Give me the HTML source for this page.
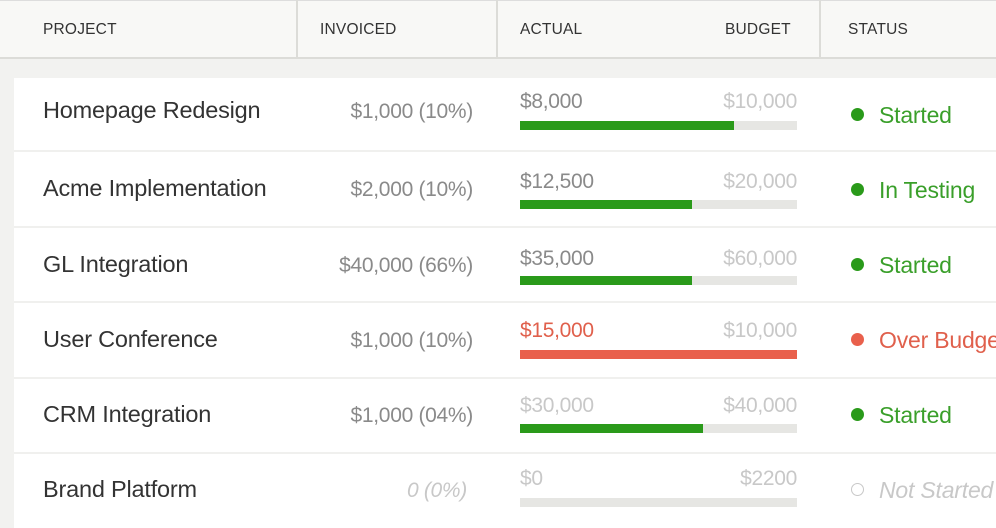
<!DOCTYPE html>
<html><head><style>
*{margin:0;padding:0;box-sizing:border-box}
body{width:996px;height:522px;overflow:hidden;background:#f2f2f0;font-family:"Liberation Sans",sans-serif;position:relative}
.hd{position:absolute;left:0;top:0;width:996px;height:59px;background:#f8f8f6;border-bottom:2px solid #dcdcd8;border-top:1px solid #ddd}
.vd{position:absolute;top:0;width:2px;height:58px;background:#dcdcd8}
.h{position:absolute;top:21px;font-size:15.5px;color:#333;letter-spacing:0.2px}
.card{position:absolute;left:14px;top:78px;width:990px;height:450px;background:#fff}
.sep{position:absolute;left:14px;width:990px;height:2px;background:#f0f0ee}
.t{position:absolute;white-space:nowrap;line-height:1}
.nm{left:43px;font-size:23.5px;color:#333;letter-spacing:-0.2px}
.inv{right:523px;font-size:21px;color:#8a8a8a;letter-spacing:-0.3px}
.amt{font-size:21px;color:#8a8a8a;letter-spacing:-0.3px}
.bud{right:199px;font-size:21px;color:#c8c8c8;letter-spacing:-0.3px}
.trk{position:absolute;left:520px;width:277px;height:9px;background:#e6e6e3}
.fil{position:absolute;left:0;top:0;height:9px;background:#2a9a1a}
.st{left:851px;font-size:23px;color:#3a9f2a;letter-spacing:-0.2px}
.dot{display:inline-block;width:13px;height:13px;border-radius:50%;background:#2a9a1a;margin-right:15px;vertical-align:2px}
</style></head><body>
<div class="hd"></div>
<div class="vd" style="left:296px"></div><div class="vd" style="left:496px"></div><div class="vd" style="left:819px"></div>
<div class="h" style="left:43px">PROJECT</div>
<div class="h" style="left:320px">INVOICED</div>
<div class="h" style="left:520px">ACTUAL</div>
<div class="h" style="left:725px">BUDGET</div>
<div class="h" style="left:848px">STATUS</div>
<div class="card"></div>
<div class="sep" style="top:150px"></div><div class="sep" style="top:226px"></div><div class="sep" style="top:301px"></div><div class="sep" style="top:377px"></div><div class="sep" style="top:452px"></div>

<div class="t nm" style="top:99px">Homepage Redesign</div>
<div class="t inv" style="top:101px">$1,000 (10%)</div>
<div class="t amt" style="left:520px;top:91px">$8,000</div>
<div class="t bud" style="top:91px">$10,000</div>
<div class="trk" style="top:121px"><div class="fil" style="width:214px"></div></div>
<div class="t st" style="top:104px"><span class="dot"></span>Started</div>

<div class="t nm" style="top:177px">Acme Implementation</div>
<div class="t inv" style="top:179px">$2,000 (10%)</div>
<div class="t amt" style="left:520px;top:171px">$12,500</div>
<div class="t bud" style="top:171px">$20,000</div>
<div class="trk" style="top:200px"><div class="fil" style="width:172px"></div></div>
<div class="t st" style="top:179px"><span class="dot"></span>In Testing</div>

<div class="t nm" style="top:253px">GL Integration</div>
<div class="t inv" style="top:255px">$40,000 (66%)</div>
<div class="t amt" style="left:520px;top:248px">$35,000</div>
<div class="t bud" style="top:248px">$60,000</div>
<div class="trk" style="top:276px"><div class="fil" style="width:172px"></div></div>
<div class="t st" style="top:254px"><span class="dot"></span>Started</div>

<div class="t nm" style="top:328px">User Conference</div>
<div class="t inv" style="top:330px">$1,000 (10%)</div>
<div class="t amt" style="left:520px;top:320px;color:#e0604c">$15,000</div>
<div class="t bud" style="top:320px">$10,000</div>
<div class="trk" style="top:350px"><div class="fil" style="width:277px;background:#e9604c"></div></div>
<div class="t st" style="top:329px;color:#e0604c"><span class="dot" style="background:#e9604c"></span>Over Budget</div>

<div class="t nm" style="top:403px">CRM Integration</div>
<div class="t inv" style="top:405px">$1,000 (04%)</div>
<div class="t amt" style="left:520px;top:395px;color:#c8c8c8">$30,000</div>
<div class="t bud" style="top:395px">$40,000</div>
<div class="trk" style="top:424px"><div class="fil" style="width:183px"></div></div>
<div class="t st" style="top:404px"><span class="dot"></span>Started</div>

<div class="t nm" style="top:478px">Brand Platform</div>
<div class="t inv" style="top:480px;color:#c8c8c8;font-style:italic;right:529px">0 (0%)</div>
<div class="t amt" style="left:520px;top:468px;color:#c8c8c8">$0</div>
<div class="t bud" style="top:468px">$2200</div>
<div class="trk" style="top:498px"></div>
<div class="t st" style="top:479px;color:#c8c8c8;font-style:italic"><span class="dot" style="background:#fff;border:1.5px solid #c8c8c8"></span>Not Started</div>
</body></html>
